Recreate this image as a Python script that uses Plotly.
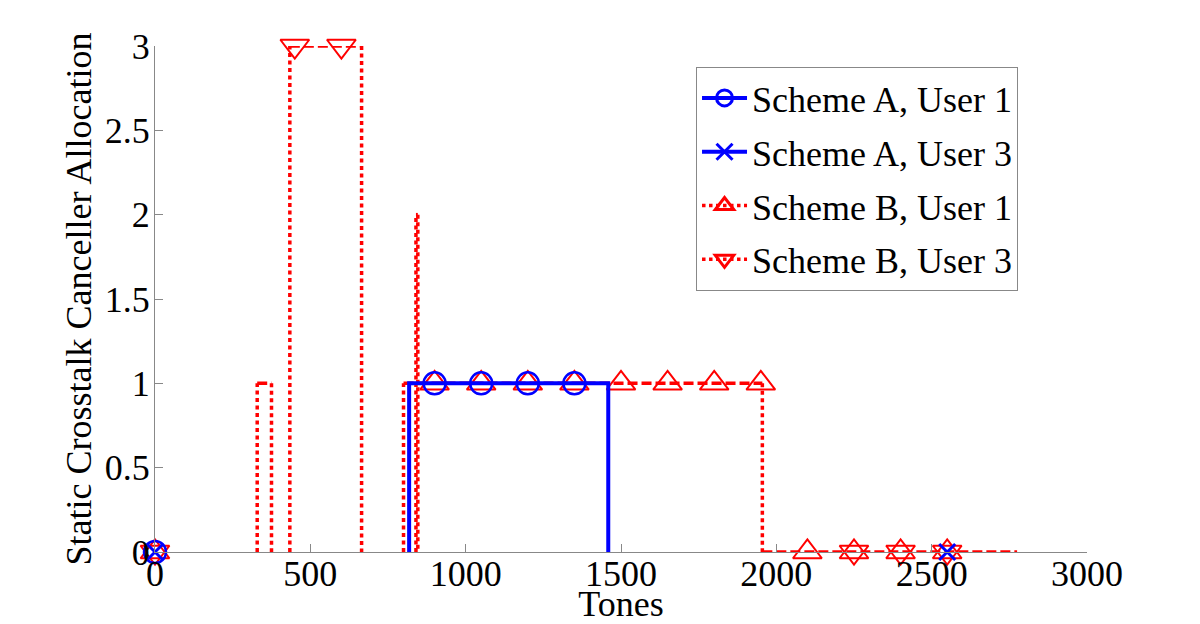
import plotly.graph_objects as go

# ---------------- data ----------------
x_ticks = [0, 500, 1000, 1500, 2000, 2500, 3000]
y_ticks = [0, 0.5, 1, 1.5, 2, 2.5, 3]
y_ticklabels = ["0", "0.5", "1", "1.5", "2", "2.5", "3"]

# Scheme A, User 1 (step outline: tone, allocation)
a1_tone = [818, 818, 1459, 1459]
a1_alloc = [0, 1, 1, 0]
a1_mk_tone = [0, 900, 1050, 1200, 1350]
a1_mk_alloc = [0, 1, 1, 1, 1]

# Scheme A, User 3
a3_mk_tone = [0, 2550]
a3_mk_alloc = [0, 0]

# Scheme B, User 1
b1_tone = [800, 800, 1955, 1955, 2775]
b1_alloc = [0, 1, 1, 0, 0]
b1_mk_tone = [0, 900, 1050, 1200, 1350, 1500, 1650, 1800, 1950, 2100, 2250, 2400, 2550]
b1_mk_alloc = [0, 1, 1, 1, 1, 1, 1, 1, 1, 0, 0, 0, 0]

# Scheme B, User 3
b3_tone = [329, 329, 375, 375, None, 434, 434, 665, 665, None, 840, 840, 846, 846]
b3_alloc = [0, 1, 1, 0, None, 0, 3, 3, 0, None, 0, 2, 2, 0]
b3_mk_tone = [0, 450, 600, 2250, 2400, 2550]
b3_mk_alloc = [0, 3, 3, 0, 0, 0]

BLUE = "#0000FF"
RED = "#FF0000"
FONT = "Liberation Serif"
FS = 36


def split_segments(xs, ys):
    vx, vy, hx, hy = [], [], [], []
    for i in range(len(xs) - 1):
        x0, x1, y0, y1 = xs[i], xs[i + 1], ys[i], ys[i + 1]
        if x0 is None or x1 is None:
            continue
        if x0 == x1:
            vx += [x0, x1, None]
            vy += [y0, y1, None]
        else:
            hx += [x0, x1, None]
            hy += [y0, y1, None]
    return vx, vy, hx, hy


fig = go.Figure()

# red (Scheme B) lines: vertical parts dotted, horizontal parts dashed
for xs, ys in [(b3_tone, b3_alloc), (b1_tone, b1_alloc)]:
    vx, vy, hx, hy = split_segments(xs, ys)
    fig.add_trace(go.Scatter(x=vx, y=vy, mode="lines", showlegend=False, hoverinfo="skip",
                             line=dict(color=RED, width=3.5, dash="4px,3.5px")))
    fig.add_trace(go.Scatter(x=hx, y=hy, mode="lines", showlegend=False, hoverinfo="skip",
                             line=dict(color=RED, width=3.5, dash="10px,4px")))

# red markers
fig.add_trace(go.Scatter(x=b1_mk_tone, y=b1_mk_alloc, mode="markers", showlegend=False,
                         cliponaxis=False,
                         marker=dict(symbol="triangle-up-open", size=25, color=RED,
                                     line=dict(color=RED, width=2))))
fig.add_trace(go.Scatter(x=b3_mk_tone, y=b3_mk_alloc, mode="markers", showlegend=False,
                         cliponaxis=False,
                         marker=dict(symbol="triangle-down-open", size=25, color=RED,
                                     line=dict(color=RED, width=2))))

# blue (Scheme A)
fig.add_trace(go.Scatter(x=a1_tone, y=a1_alloc, mode="lines", showlegend=False, hoverinfo="skip",
                         line=dict(color=BLUE, width=4)))
fig.add_trace(go.Scatter(x=a1_mk_tone, y=a1_mk_alloc, mode="markers", showlegend=False,
                         cliponaxis=False,
                         marker=dict(symbol="circle-open", size=22, color=BLUE,
                                     line=dict(color=BLUE, width=2.5))))
fig.add_trace(go.Scatter(x=a3_mk_tone, y=a3_mk_alloc, mode="markers", showlegend=False,
                         cliponaxis=False,
                         marker=dict(symbol="x-thin-open", size=16, color=BLUE,
                                     line=dict(color=BLUE, width=3))))

# legend entries
legend_items = [
    ("Scheme A, User 1", BLUE, "solid", "circle-open", 4),
    ("Scheme A, User 3", BLUE, "solid", "x-thin-open", 4),
    ("Scheme B, User 1", RED, "dot", "triangle-up-open", 3.5),
    ("Scheme B, User 3", RED, "dot", "triangle-down-open", 3.5),
]
for rank, (name, col, dash, sym, lw) in enumerate(legend_items):
    fig.add_trace(go.Scatter(x=[None], y=[None], mode="lines+markers", name=name,
                             legendrank=rank + 1, legendgroup="g%d" % rank,
                             line=dict(color=col, width=lw, dash=dash),
                             marker=dict(symbol=sym, size=16, color=col,
                                         line=dict(color=col, width=3))))

axis_common = dict(showline=True, linecolor="#888", linewidth=1, mirror=False,
                   ticks="inside", ticklen=8, tickcolor="#888", tickwidth=1,
                   showgrid=False, zeroline=False, automargin=False,
                   tickfont=dict(family=FONT, size=FS, color="black"))

fig.update_layout(
    width=1192, height=616,
    margin=dict(l=147, r=113, t=38, b=72),
    paper_bgcolor="white", plot_bgcolor="white",
    font=dict(family=FONT, size=FS, color="black"),
    xaxis=dict(range=[0, 3000], tickvals=x_ticks, ticklabelstandoff=-10, **axis_common,
               title=dict(text="Tones", font=dict(family=FONT, size=FS), standoff=3)),
    yaxis=dict(range=[0, 3], tickvals=y_ticks, ticktext=y_ticklabels, ticklabelstandoff=-3,
               **axis_common,
               title=dict(text="Static Crosstalk Canceller Allocation",
                          font=dict(family=FONT, size=FS), standoff=2)),
    legend=dict(x=0.5805, y=0.9585, xanchor="left", yanchor="top",
                bgcolor="white", bordercolor="#888", borderwidth=1,
                font=dict(family=FONT, size=FS, color="black"),
                itemwidth=45, tracegroupgap=4, traceorder="grouped"),
    showlegend=True,
)

fig.write_html("out.html")
